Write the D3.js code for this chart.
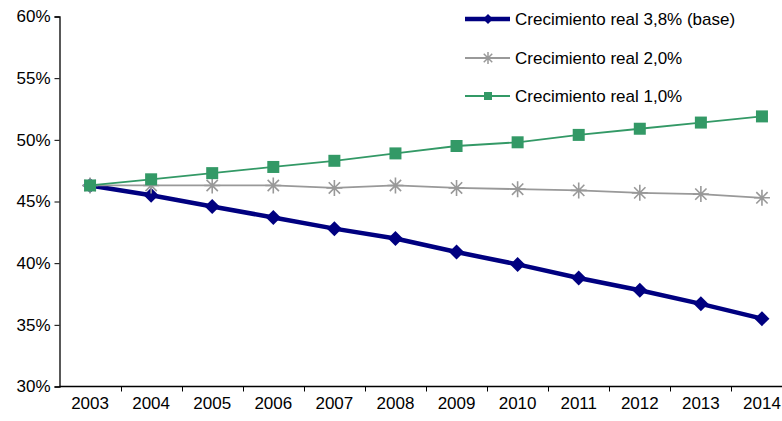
<!DOCTYPE html>
<html>
<head>
<meta charset="utf-8">
<script src="https://cdn.jsdelivr.net/npm/d3@7"></script>
<style>
  html, body { margin: 0; padding: 0; background: #fff; overflow: hidden; }
  svg { display: block; font-family: "Liberation Sans", Arial, sans-serif; }
</style>
</head>
<body>
<svg id="chart" width="782" height="421"></svg>
<script>
// Years on the category axis
const years = ["2003","2004","2005","2006","2007","2008","2009","2010","2011","2012","2013","2014"];

// Ratio (%) under each real-growth scenario
const base38 = [46.3, 45.5, 44.6, 43.7, 42.8, 42.0, 40.9, 39.9, 38.8, 37.8, 36.7, 35.5];
const growth20 = [46.3, 46.3, 46.3, 46.3, 46.1, 46.3, 46.1, 46.0, 45.9, 45.7, 45.6, 45.3];
const growth10 = [46.3, 46.8, 47.3, 47.8, 48.3, 48.9, 49.5, 49.8, 50.4, 50.9, 51.4, 51.9];

// Y-axis tick values
const yTicks = [30, 35, 40, 45, 50, 55, 60];

const seriesNames = ["Crecimiento real 3,8% (base)", "Crecimiento real 2,0%", "Crecimiento real 1,0%"];

const svg = d3.select("#chart");
const fontSize = "17px";

const x = d3.scaleBand().domain(years).range([59.5, 792.5]);
const y = d3.scaleLinear().domain([30, 60]).range([386.5, 16.5]);

// Y axis
const yAxis = svg.append("g")
  .attr("transform", "translate(59.5,0)")
  .call(d3.axisLeft(y).tickValues(yTicks).tickSize(5).tickFormat(d => d + "%"));
yAxis.select(".domain").attr("stroke", "#000").attr("stroke-width", 1.3);
yAxis.selectAll(".tick line").attr("stroke", "#000");
yAxis.selectAll(".tick text")
  .attr("font-size", fontSize).attr("font-family", "Liberation Sans, Arial, sans-serif")
  .attr("fill", "#000").attr("x", -9);

// X axis with ticks between categories
const xAxisG = svg.append("g").attr("transform", "translate(0,386.5)");
xAxisG.append("line")
  .attr("x1", 59.5).attr("x2", 792.5).attr("y1", 0).attr("y2", 0)
  .attr("stroke", "#000").attr("stroke-width", 1.3);
const bounds = years.slice(1).map(d => x(d)).concat([x.range()[1]]);
xAxisG.selectAll(".xt").data(bounds).join("line")
  .attr("class", "xt")
  .attr("x1", d => Math.round(d) + 0.5).attr("x2", d => Math.round(d) + 0.5)
  .attr("y1", 0).attr("y2", 5)
  .attr("stroke", "#000");
xAxisG.selectAll(".xl").data(years).join("text")
  .attr("class", "xl")
  .attr("x", d => x(d) + x.bandwidth() / 2)
  .attr("y", 22)
  .attr("text-anchor", "middle")
  .attr("font-size", fontSize)
  .attr("fill", "#000")
  .text(d => d);

const cx = d => x(d) + x.bandwidth() / 2;
const line = d3.line().x(d => cx(d.year)).y(d => y(d.v));
const toPts = arr => years.map((yr, i) => ({ year: yr, v: arr[i] }));

const navy = "#000080", gray = "#999999", green = "#339966";

// Base scenario: thick navy line with diamonds
svg.append("path").datum(toPts(base38))
  .attr("d", line).attr("fill", "none").attr("stroke", navy).attr("stroke-width", 4.5)
  .attr("stroke-linejoin", "round");
const diamond = (s) => `M0,${-s}L${s},0L0,${s}L${-s},0Z`;
svg.selectAll(".dm").data(toPts(base38)).join("path")
  .attr("class", "dm")
  .attr("transform", d => `translate(${cx(d.year)},${y(d.v)})`)
  .attr("d", diamond(7.5)).attr("fill", navy);

// 2,0% scenario: thin gray line with asterisks
svg.append("path").datum(toPts(growth20))
  .attr("d", line).attr("fill", "none").attr("stroke", gray).attr("stroke-width", 1.8);
const asterisk = (s) => {
  const d = s * 0.707;
  return `M${-s},0L${s},0M${-d},${-d}L${d},${d}M${-d},${d}L${d},${-d}M0,${-s}L0,${s}`;
};
svg.selectAll(".as").data(toPts(growth20)).join("path")
  .attr("class", "as")
  .attr("transform", d => `translate(${cx(d.year)},${y(d.v)})`)
  .attr("d", asterisk(8)).attr("fill", "none").attr("stroke", gray).attr("stroke-width", 1.6);

// 1,0% scenario: thin green line with squares
svg.append("path").datum(toPts(growth10))
  .attr("d", line).attr("fill", "none").attr("stroke", green).attr("stroke-width", 1.8);
svg.selectAll(".sq").data(toPts(growth10)).join("rect")
  .attr("class", "sq")
  .attr("x", d => cx(d.year) - 6).attr("y", d => y(d.v) - 6)
  .attr("width", 12).attr("height", 12).attr("fill", green);

// Legend
const legend = svg.append("g").attr("transform", "translate(465,0)");
const rows = [
  { name: seriesNames[0], c: navy, w: 4.5, m: "diamond", ty: 19 },
  { name: seriesNames[1], c: gray, w: 1.8, m: "asterisk", ty: 58 },
  { name: seriesNames[2], c: green, w: 1.8, m: "square", ty: 96 }
];
rows.forEach(r => {
  const g = legend.append("g").attr("transform", `translate(0,${r.ty})`);
  g.append("line").attr("x1", 0).attr("x2", 45).attr("y1", 0).attr("y2", 0)
    .attr("stroke", r.c).attr("stroke-width", r.w);
  if (r.m === "diamond") {
    g.append("path").attr("transform", "translate(23,0)").attr("d", diamond(5)).attr("fill", r.c);
  } else if (r.m === "asterisk") {
    g.append("path").attr("transform", "translate(23,0)").attr("d", asterisk(6))
      .attr("fill", "none").attr("stroke", r.c).attr("stroke-width", 1.5);
  } else {
    g.append("rect").attr("x", 19).attr("y", -4).attr("width", 8).attr("height", 8).attr("fill", r.c);
  }
  g.append("text").attr("x", 50).attr("y", 0).attr("dy", "0.35em")
    .attr("font-size", fontSize).attr("fill", "#000").text(r.name);
});
</script>
</body>
</html>
